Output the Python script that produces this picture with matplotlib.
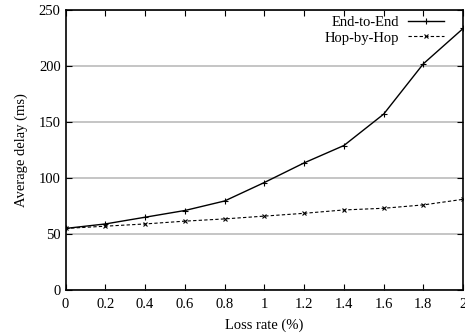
import matplotlib
matplotlib.use("Agg")
import matplotlib.pyplot as plt

plt.rcParams['font.family'] = ['Liberation Serif', 'DejaVu Serif']
plt.rcParams['mathtext.fontset'] = 'stix'

loss_rate = [0, 0.2, 0.4, 0.6, 0.8, 1.0, 1.2, 1.4, 1.6, 1.8, 2.0]
end_to_end = [55, 59, 65, 71, 79.5, 96, 113.5, 129, 157, 202, 233.5]
hop_by_hop = [55, 57, 59, 61.5, 63.5, 66, 68.5, 71.5, 73, 76, 81]
x_ticks = [0, 0.2, 0.4, 0.6, 0.8, 1, 1.2, 1.4, 1.6, 1.8, 2]
x_ticklabels = ['0', '0.2', '0.4', '0.6', '0.8', '1', '1.2', '1.4', '1.6', '1.8', '2']
y_ticks = [0, 50, 100, 150, 200, 250]

fig = plt.figure(figsize=(4.65, 3.33), dpi=100)
ax = fig.add_axes([0.141, 0.129, 0.855, 0.841])

ax.plot(loss_rate, end_to_end, color='black', linestyle='-', linewidth=1,
        marker='+', markersize=4, markeredgewidth=0.8, label='End-to-End')
ax.plot(loss_rate, hop_by_hop, color='black', linestyle=(0, (3, 2)), linewidth=0.8,
        marker='x', markersize=3.5, markeredgewidth=0.8, label='Hop-by-Hop')

ax.set_xlim(0, 2)
ax.set_ylim(0, 250)
ax.set_xticks(x_ticks)
ax.set_xticklabels(x_ticklabels)
ax.set_yticks(y_ticks)
ax.yaxis.grid(True, color='#bbbbbb', linewidth=1.2)
ax.set_axisbelow(True)
ax.tick_params(direction='in', top=True, right=True, length=4, labelsize=10.5, width=0.8)
ax.tick_params(axis='x', pad=6)
for s in ax.spines.values():
    s.set_linewidth(1.2)

ax.set_xlabel('Loss rate (%)', fontsize=10.5, labelpad=5)
ax.set_ylabel('Average delay (ms)', fontsize=10.5, labelpad=8)

ax.legend(loc='upper right', bbox_to_anchor=(0.975, 1.01), frameon=False,
          markerfirst=False, fontsize=10.5, handlelength=2.5, borderaxespad=0.3,
          borderpad=0.3, labelspacing=0.15, handletextpad=0.6)

fig.savefig('out.png', dpi=100)
